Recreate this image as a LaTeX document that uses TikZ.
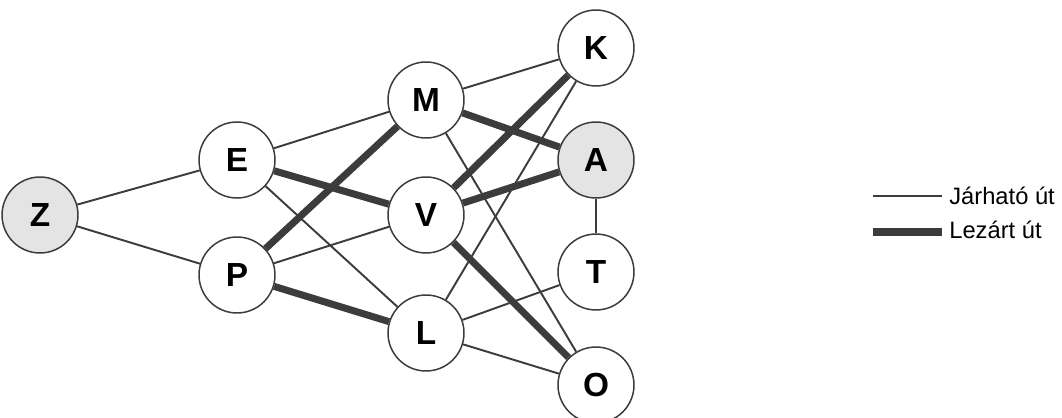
\documentclass[tikz,border=0pt]{standalone}
\usepackage{fontspec}
\setmainfont{Liberation Sans}
\definecolor{edgegray}{HTML}{3C3C3C}
\definecolor{placegray}{HTML}{E4E4E4}
\tikzset{
  town/.style={draw=edgegray, line width=0.85pt, shape=circle, fill=white,
    minimum size=1.52cm, inner sep=0pt, font=\fontsize{19}{19}\selectfont\bfseries},
  endtown/.style={town, fill=placegray},
  open road/.style={draw=edgegray, line width=1.1pt},
  closed road/.style={draw=edgegray, line width=4pt},
  keytext/.style={anchor=base west, inner sep=0pt, font=\fontsize{13.5}{13.5}\selectfont}
}
\begin{document}
\begin{tikzpicture}[x=0.02cm, y=-0.02cm]
    \useasboundingbox (0,0) rectangle (1062,418);
    \node(Z)[endtown] at (40,215) {Z};
    \node(E)[town] at (237,160) {E};
    \node(P)[town] at (237,275) {P};
    \node(M)[town] at (426,100) {M};
    \node(V)[town] at (426,215) {V};
    \node(L)[town] at (426,333) {L};
    \node(K)[town] at (596,48) {K};
    \node(A)[endtown] at (596,160) {A};
    \node(T)[town] at (596,272) {T};
    \node(O)[town] at (596,385) {O};
    % roads
    \draw[open road] (Z) -- (E);
    \draw[open road] (Z) -- (P);
    \draw[open road] (E) -- (M);
    \draw[closed road] (E) -- (V);
    \draw[open road] (E) -- (L);
    \draw[closed road] (P) -- (M);
    \draw[open road] (P) -- (V);
    \draw[closed road] (P) -- (L);
    \draw[open road] (M) -- (K);
    \draw[closed road] (M) -- (A);
    \draw[open road] (M) -- (O);
    \draw[closed road] (V) -- (K);
    \draw[closed road] (V) -- (A);
    \draw[closed road] (V) -- (O);
    \draw[open road] (L) -- (K);
    \draw[open road] (L) -- (T);
    \draw[open road] (L) -- (O);
    \draw[open road] (A) -- (T);
    % legend
    \coordinate(j1) at (873,196);
    \coordinate(j2) at (942,196);
    \coordinate(c1) at (873,232);
    \coordinate(c2) at (942,232);
    \draw[open road] (j1) -- (j2);
    \draw[closed road] (c1) -- (c2);
    \node(jlab)[keytext] at (949,205) {Járható út};
    \node(clab)[keytext] at (949,239) {Lezárt út};
\end{tikzpicture}
\end{document}
